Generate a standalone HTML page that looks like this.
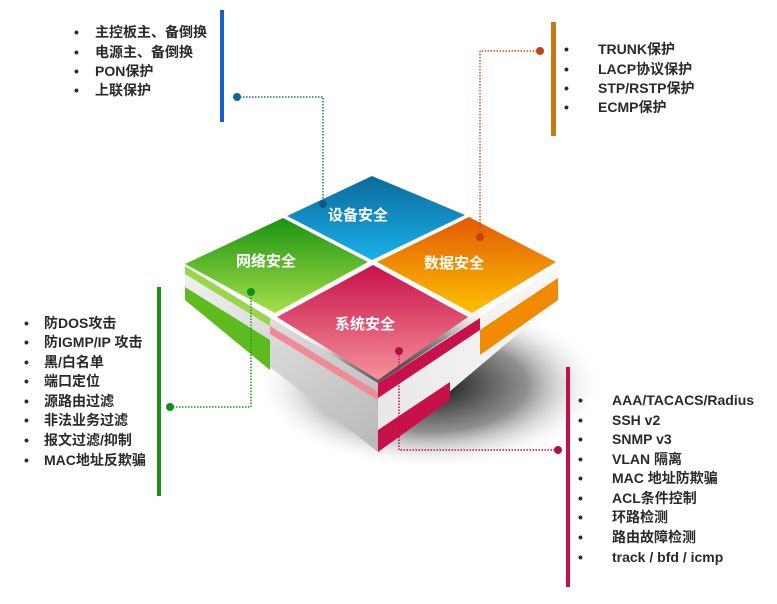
<!DOCTYPE html>
<html><head><meta charset="utf-8"><style>
html,body{margin:0;padding:0;background:#fff;}
svg{display:block;}
text{font-family:"Liberation Sans","Noto Sans CJK SC",sans-serif;font-weight:bold;}
.l{font-size:14px;fill:#2a2a2a;}
.t{font-size:15px;fill:#fff;}
</style></head><body>
<svg width="777" height="604" viewBox="0 0 777 604" xmlns="http://www.w3.org/2000/svg">
<defs>
<radialGradient id="sh" cx="0.5" cy="0.5" r="0.5">
<stop offset="0" stop-color="#000" stop-opacity="0.95"/>
<stop offset="0.55" stop-color="#333" stop-opacity="0.55"/>
<stop offset="1" stop-color="#fff" stop-opacity="0"/>
</radialGradient>
<linearGradient id="lf" x1="0" y1="0" x2="1" y2="1"><stop offset="0" stop-color="#f2f2f2"/><stop offset="1" stop-color="#b8b8b8"/></linearGradient>
<linearGradient id="rf" x1="0" y1="0" x2="1" y2="0"><stop offset="0" stop-color="#e8e8e8"/><stop offset="1" stop-color="#f8f8f8"/></linearGradient>
<linearGradient id="gB" x1="0" y1="0" x2="0" y2="1"><stop offset="0" stop-color="#0b6a9c"/><stop offset="1" stop-color="#19b0ea"/></linearGradient>
<linearGradient id="gG" x1="0" y1="0" x2="0" y2="1"><stop offset="0" stop-color="#1a9410"/><stop offset="1" stop-color="#a6df4a"/></linearGradient>
<linearGradient id="gO" x1="0" y1="0" x2="0" y2="1"><stop offset="0" stop-color="#e35a05"/><stop offset="1" stop-color="#fcc000"/></linearGradient>
<linearGradient id="gR" x1="0" y1="0" x2="0" y2="1"><stop offset="0" stop-color="#c8104a"/><stop offset="1" stop-color="#f6929a"/></linearGradient>
</defs>

<ellipse cx="430" cy="385" rx="175" ry="85" fill="url(#sh)"/>

<polygon points="185,266 378,383 378,452 185,300" fill="url(#lf)"/>
<polygon points="378,383 558,266 558,300 378,452" fill="url(#rf)"/>
<polygon points="185,287 270,340 270,370 185,300" fill="#5dbb1e"/>
<polygon points="185,266 270,318 270,326 185,274" fill="#9bd54a"/>
<polygon points="480,330 558,278 558,300 480,355" fill="#f08a00"/>
<polygon points="378,383 480,318 480,330 378,398" fill="#c8104a"/>
<polygon points="378,430 450,382 450,400 378,452" fill="#c8104a"/>
<polygon points="270,326 378,392 378,400 270,334" fill="#f08a94"/>

<polygon points="372,176 465,215 372,260 287,216" fill="url(#gB)"/>
<polygon points="283,218 368,262 275,313 185,264" fill="url(#gG)"/>
<polygon points="469,217 556,262 472,313 377,262" fill="url(#gO)"/>
<polygon points="373,265 468,317 378,380 277,317" fill="url(#gR)"/>
<text class="t" x="358" y="220" text-anchor="middle">设备安全</text>
<text class="t" x="266" y="266" text-anchor="middle">网络安全</text>
<text class="t" x="454" y="268" text-anchor="middle">数据安全</text>
<text class="t" x="365" y="329" text-anchor="middle">系统安全</text>

<rect x="220" y="10" width="4" height="112" fill="#1560d0"/>
<rect x="551" y="22" width="5" height="114" fill="#c87a10"/>
<rect x="157" y="287" width="4" height="209" fill="#1e8c1e"/>
<rect x="566" y="367" width="4" height="220" fill="#c0104a"/>

<polyline points="237,97 323,97 323,204" fill="none" stroke="#1a6a90" stroke-width="1.5" stroke-dasharray="1.5,1.5"/>
<circle cx="237" cy="97" r="4" fill="#0e6a90"/><circle cx="323" cy="204" r="4" fill="#0e5a80"/>
<polyline points="540,51 480,51 480,237" fill="none" stroke="#d45020" stroke-width="1.5" stroke-dasharray="1.5,1.5"/>
<circle cx="540" cy="51" r="4" fill="#c84010"/><circle cx="480" cy="237" r="4" fill="#c84010"/>
<polyline points="170,407 251,407 251,292" fill="none" stroke="#1a9a1a" stroke-width="1.5" stroke-dasharray="1.5,1.5"/>
<circle cx="170" cy="407" r="4" fill="#139013"/><circle cx="251" cy="292" r="4" fill="#139013"/>
<polyline points="558,450 399,450 399,351" fill="none" stroke="#c0104a" stroke-width="1.5" stroke-dasharray="1.5,1.5"/>
<circle cx="558" cy="450" r="4" fill="#b0104a"/><circle cx="399" cy="351" r="4" fill="#b0104a"/>

<g class="l">
<text x="74" y="37">•</text><text x="95" y="37">主控板主、备倒换</text>
<text x="74" y="57">•</text><text x="95" y="57">电源主、备倒换</text>
<text x="74" y="76">•</text><text x="95" y="76">PON保护</text>
<text x="74" y="95">•</text><text x="95" y="95">上联保护</text>
</g>
<g class="l">
<text x="564" y="54">•</text><text x="598" y="54">TRUNK保护</text>
<text x="564" y="74">•</text><text x="598" y="74">LACP协议保护</text>
<text x="564" y="93">•</text><text x="598" y="93">STP/RSTP保护</text>
<text x="564" y="112">•</text><text x="598" y="112">ECMP保护</text>
</g>
<g class="l">
<text x="24" y="328">•</text><text x="44" y="328">防DOS攻击</text>
<text x="24" y="347">•</text><text x="44" y="347">防IGMP/IP 攻击</text>
<text x="24" y="367">•</text><text x="44" y="367">黑/白名单</text>
<text x="24" y="386">•</text><text x="44" y="386">端口定位</text>
<text x="24" y="406">•</text><text x="44" y="406">源路由过滤</text>
<text x="24" y="425">•</text><text x="44" y="425">非法业务过滤</text>
<text x="24" y="445">•</text><text x="44" y="445">报文过滤/抑制</text>
<text x="24" y="465">•</text><text x="44" y="465">MAC地址反欺骗</text>
</g>
<g class="l">
<text x="578" y="405">•</text><text x="612" y="405">AAA/TACACS/Radius</text>
<text x="578" y="425">•</text><text x="612" y="425">SSH v2</text>
<text x="578" y="444">•</text><text x="612" y="444">SNMP v3</text>
<text x="578" y="464">•</text><text x="612" y="464">VLAN 隔离</text>
<text x="578" y="483">•</text><text x="612" y="483">MAC 地址防欺骗</text>
<text x="578" y="503">•</text><text x="612" y="503">ACL条件控制</text>
<text x="578" y="522">•</text><text x="612" y="522">环路检测</text>
<text x="578" y="542">•</text><text x="612" y="542">路由故障检测</text>
<text x="578" y="562">•</text><text x="612" y="562">track / bfd / icmp</text>
</g>
</svg>
</body></html>
